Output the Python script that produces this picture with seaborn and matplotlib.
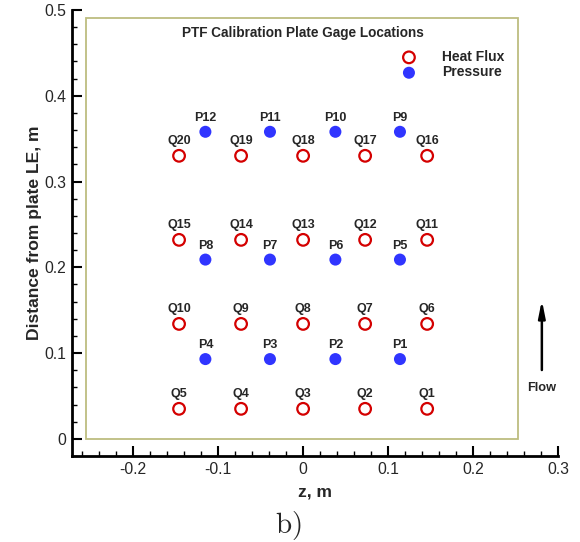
import matplotlib
matplotlib.use("Agg")
import matplotlib.pyplot as plt
import seaborn as sns
import pandas as pd
from matplotlib.patches import Rectangle
from matplotlib.ticker import MultipleLocator, FuncFormatter

# ---- data ----
q_labels = ["Q1", "Q2", "Q3", "Q4", "Q5",
            "Q6", "Q7", "Q8", "Q9", "Q10",
            "Q11", "Q12", "Q13", "Q14", "Q15",
            "Q16", "Q17", "Q18", "Q19", "Q20"]
q_z = [0.146, 0.073, 0.0, -0.073, -0.146,
       0.146, 0.073, 0.0, -0.073, -0.146,
       0.146, 0.073, 0.0, -0.073, -0.146,
       0.146, 0.073, 0.0, -0.073, -0.146]
q_y = [0.035, 0.035, 0.035, 0.035, 0.035,
       0.134, 0.134, 0.134, 0.134, 0.134,
       0.232, 0.232, 0.232, 0.232, 0.232,
       0.330, 0.330, 0.330, 0.330, 0.330]

p_labels = ["P1", "P2", "P3", "P4",
            "P5", "P6", "P7", "P8",
            "P9", "P10", "P11", "P12"]
p_z = [0.114, 0.038, -0.039, -0.115,
       0.114, 0.038, -0.039, -0.115,
       0.114, 0.038, -0.039, -0.115]
p_y = [0.093, 0.093, 0.093, 0.093,
       0.209, 0.209, 0.209, 0.209,
       0.358, 0.358, 0.358, 0.358]

series_names = ["Heat Flux", "Pressure"]
title_text = "PTF Calibration Plate Gage Locations"
x_label = "z, m"
y_label = "Distance from plate LE, m"

# ---- style ----
sns.set_style("ticks")
plt.rcParams["font.family"] = ["Liberation Sans", "DejaVu Sans"]
plt.rcParams["axes.unicode_minus"] = False
plt.rcParams["mathtext.fontset"] = "cm"

fig = plt.figure(figsize=(5.8, 5.42), dpi=100)
ax = fig.add_axes([72 / 580, 1 - 456 / 542, (558 - 72) / 580, (456 - 10) / 542])

qdf = pd.DataFrame({"z": q_z, "y": q_y, "label": q_labels})
pdf = pd.DataFrame({"z": p_z, "y": p_y, "label": p_labels})

sns.scatterplot(data=qdf, x="z", y="y", ax=ax, marker="o", s=70,
                facecolor="none", edgecolor="#d40000", linewidth=1.6,
                label=series_names[0], zorder=3)
sns.scatterplot(data=pdf, x="z", y="y", ax=ax, marker="o", s=75,
                color="#3035ff", edgecolor="none", linewidth=0,
                label=series_names[1], zorder=3)

for _, r in qdf.iterrows():
    ax.annotate(r["label"], (r["z"], r["y"]), xytext=(0, 10.5),
                textcoords="offset points", ha="center", va="center",
                fontsize=9, fontweight="bold")
for _, r in pdf.iterrows():
    ax.annotate(r["label"], (r["z"], r["y"]), xytext=(0, 10),
                textcoords="offset points", ha="center", va="center",
                fontsize=9, fontweight="bold")

# frame box
ax.add_patch(Rectangle((-0.255, 0.0), 0.508, 0.491, fill=False,
                       edgecolor="#bdbd80", linewidth=1.3, zorder=1))

ax.text(0.0, 0.473, title_text, ha="center", va="center",
        fontsize=9.8, fontweight="bold")

# flow arrow
ax.annotate("", xy=(0.281, 0.165), xytext=(0.281, 0.077),
            arrowprops=dict(arrowstyle="-|>,head_length=1.0,head_width=0.2",
                            color="black", lw=1.8))
ax.text(0.281, 0.059, "Flow", ha="center", va="center",
        fontsize=9.2, fontweight="bold")

ax.set_xlim(-0.272, 0.3)
ax.set_ylim(-0.02, 0.5)
ax.xaxis.set_major_locator(MultipleLocator(0.1))
ax.xaxis.set_minor_locator(MultipleLocator(0.02))
ax.yaxis.set_major_locator(MultipleLocator(0.1))
ax.yaxis.set_minor_locator(MultipleLocator(0.02))

def fmt(v, pos):
    s = f"{v:.1f}"
    if s in ("0.0", "-0.0"):
        return "0"
    return s

ax.xaxis.set_major_formatter(FuncFormatter(fmt))
ax.yaxis.set_major_formatter(FuncFormatter(fmt))

ax.tick_params(which="major", direction="in", length=7, width=1.5,
               labelsize=11.3, pad=4, color="black")
ax.tick_params(which="minor", direction="in", length=3.5, width=1.0,
               color="black")
for s in ["top", "right"]:
    ax.spines[s].set_visible(False)
for s in ["left", "bottom"]:
    ax.spines[s].set_linewidth(2)
    ax.spines[s].set_color("black")

ax.set_xlabel(x_label, fontsize=12.6, fontweight="bold", labelpad=6)
ax.set_ylabel(y_label, fontsize=12.6, fontweight="bold", labelpad=2)

leg = ax.legend(loc="upper left", bbox_to_anchor=(402 / 580, 1 - 50 / 542),
                bbox_transform=fig.transFigure, frameon=False,
                borderpad=0, borderaxespad=0, handlelength=1.0,
                handletextpad=1.9, labelspacing=0.1,
                prop={"size": 10, "weight": "bold"})

fig.text(288 / 580, 1 - 526 / 542, r"$\mathrm{b)}$", ha="center",
         va="center", fontsize=21)

fig.savefig("out.png", dpi=100)
